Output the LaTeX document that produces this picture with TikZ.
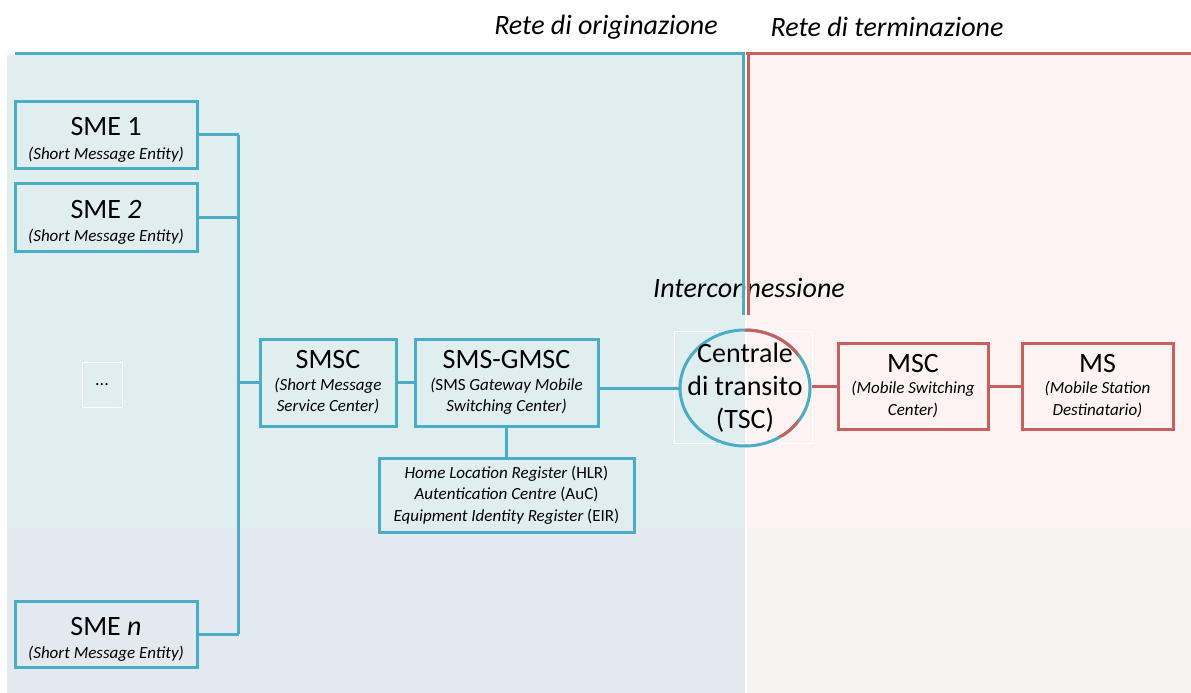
\documentclass[tikz,border=0pt]{standalone}
\usepackage{fontspec}
\setmainfont{Carlito}
\usetikzlibrary{shapes.geometric}
\definecolor{blu}{HTML}{4BACC6}
\definecolor{rosso}{HTML}{C9605D}
\definecolor{fondoblu}{HTML}{E0EEF0}
\definecolor{fondoblubasso}{HTML}{E2EAEF}
\definecolor{fondorosso}{HTML}{FDF3F2}
\definecolor{fondorossobasso}{HTML}{F7F3F3}
\newcommand{\grande}{\fontsize{28}{33}\selectfont}
\newcommand{\piccolo}{\fontsize{17}{21.5}\selectfont\itshape}
\newcommand{\alzata}{\rule{0pt}{29pt}}
\begin{document}
\begin{tikzpicture}[x=1pt, y=-1pt,
    scatola/.style={draw=blu, line width=3pt, align=center, inner sep=0pt, font=\piccolo},
    scatolarossa/.style={scatola, draw=rosso},
    filo/.style={draw=blu, line width=3pt},
    filorosso/.style={draw=rosso, line width=3pt},
    tenue/.style={draw=white, line width=0.8pt},
    cerchio/.style={ellipse, line width=3pt, minimum width=130pt, minimum height=116pt, inner sep=0pt}]
    \useasboundingbox (0,0) rectangle (1191,693);

    % Sfondi delle due reti
    \fill[fondoblu] (7,55) rectangle (745,527);
    \fill[fondoblubasso] (7,527) rectangle (745,693);
    \fill[fondorosso] (747,55) rectangle (1191,527);
    \fill[fondorossobasso] (747,527) rectangle (1191,693);

    % Titoli
    \node[font=\grande\itshape] (orig) at (606,27) {Rete di originazione};
    \node[font=\grande\itshape] (term) at (887,27) {Rete di terminazione};
    \node[font=\grande\itshape] (inter) at (749,288) {Interconnessione};

    % Bordi superiori e separazione
    \draw[filo] (15,54) -- (745,54);
    \draw[filorosso] (746,54) -- (1191,54);
    \draw[filo] (743,54) -- (743,315);
    \draw[filorosso] (748.5,54) -- (748.5,315);

    % Entita' SME
    \node[scatola, minimum width=182pt, minimum height=67pt] (sme1) at (106,134.5)
        {{\grande\upshape\alzata SME 1}\\[2pt](Short Message Entity)};
    \node[scatola, minimum width=182pt, minimum height=68pt] (sme2) at (106,217)
        {{\grande\upshape\alzata SME \textit{2}}\\[2pt](Short Message Entity)};
    \node[tenue, minimum width=40pt, minimum height=45pt, font=\fontsize{18}{20}\selectfont] (puntini) at (102,385) {...};
    \node[scatola, minimum width=182pt, minimum height=66pt] (smen) at (106,634)
        {{\grande\upshape\alzata SME \textit{n}}\\[2pt](Short Message Entity)};

    % Centri di servizio
    \node[scatola, minimum width=136pt, minimum height=87pt] (smsc) at (328,382.5)
        {{\grande\upshape SMSC}\\(Short Message\\Service Center)};
    \node[scatola, minimum width=183pt, minimum height=87pt] (gmsc) at (506.5,382.5)
        {{\grande\upshape SMS-GMSC}\\(\upshape SMS \itshape Gateway Mobile\\Switching Center)};
    \node[scatola, minimum width=255pt, minimum height=74pt] (hlr) at (506.5,495)
        {Home Location Register \upshape(HLR)\\Autentication Centre \upshape(AuC)\\Equipment Identity Register \upshape(EIR)};

    % Centrale di transito
    \node[tenue, minimum width=138pt, minimum height=112pt] (cornice) at (743,387) {};
    \node[cerchio, draw=blu] (tsc) at (745,388) {};
    \begin{scope}
        \clip (tsc.north) rectangle ([shift={(6pt,-6pt)}]tsc.south east);
        \node[cerchio, draw=rosso] (tscrosso) at (tsc.center) {};
    \end{scope}
    \node[align=center, font=\grande] (tsctesto) at (tsc.center) {Centrale\\di transito\\(TSC)};

    % Rete di terminazione
    \node[scatolarossa, minimum width=150pt, minimum height=86pt] (msc) at (913,386)
        {{\grande\upshape MSC}\\(Mobile Switching\\Center)};
    \node[scatolarossa, minimum width=151pt, minimum height=86pt] (ms) at (1097.5,386)
        {{\grande\upshape MS}\\(Mobile Station\\Destinatario)};

    % Collegamenti
    \draw[filo] (sme1.east) -- ++(40,0) coordinate (b1);
    \draw[filo] (smen.east) -- ++(40,0) coordinate (bn);
    \draw[filo] (b1) -- (bn);
    \draw[filo] (sme2.east) -- (sme2.east -| b1);
    \draw[filo] (smsc.west) -- (smsc.west -| b1);
    \draw[filo] (smsc.east) -- (gmsc.west);
    \draw[filo] (tsc.west) -- (tsc.west -| gmsc.east);
    \draw[filo] (gmsc.south) -- (hlr.north);
    \draw[filorosso] (msc.west) -- (msc.west -| tsc.east);
    \draw[filorosso] (msc.east) -- (ms.west);
\end{tikzpicture}
\end{document}
